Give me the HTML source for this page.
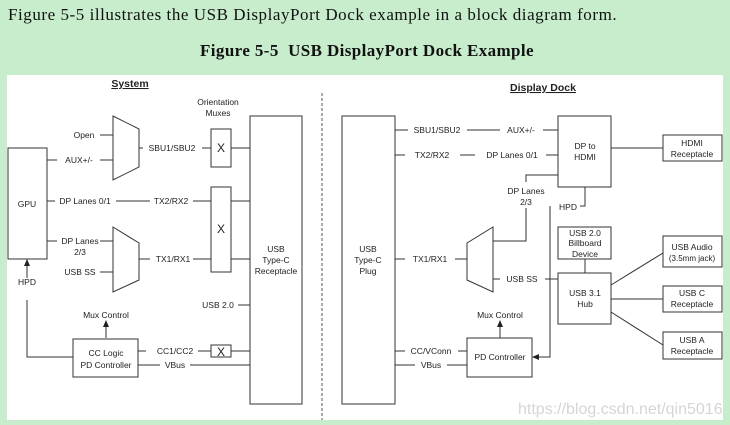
<!DOCTYPE html>
<html><head><meta charset="utf-8"><style>
body{margin:0;width:730px;height:425px;background:#c7edcc;overflow:hidden;position:relative;font-family:"Liberation Serif",serif}
.t1{position:absolute;left:8px;top:5px;font-size:17px;color:#111;letter-spacing:0.55px;white-space:nowrap}
.t2{position:absolute;left:0;width:734px;top:41px;text-align:center;font-size:17px;font-weight:bold;color:#111;letter-spacing:0.4px}
svg{position:absolute;left:0;top:0}
</style></head><body>
<div class="t1">Figure 5-5 illustrates the USB DisplayPort Dock example in a block diagram form.</div>
<div class="t2">Figure 5-5&nbsp; USB DisplayPort Dock Example</div>
<svg width="730" height="425" font-family="Liberation Sans, sans-serif" font-size="8.5" fill="#222">
<rect x="7" y="75" width="716" height="345" fill="#fff"/>
<g stroke="#333" stroke-width="1" fill="none">
<rect x="8" y="148" width="39" height="111"/>
<polygon points="113,116 139,129 139,167 113,180"/>
<polygon points="113,227 139,243 139,280 113,292"/>
<rect x="211" y="129" width="20" height="38"/>
<rect x="211" y="187" width="20" height="85"/>
<rect x="211" y="345" width="20" height="12"/>
<rect x="250" y="116" width="52" height="288"/>
<rect x="73" y="339" width="65" height="38"/>
<path d="M47 160H57M100 160H113M100 135H113M139 148H143M202 148H211M231 148H250"/>
<path d="M47 201H55M116 201H150M193 201H211M231 201H250M231 259H250"/>
<path d="M47 241H57M100 241H113M100 272H113M139 259H150M193 259H211M238 305H250"/>
<path d="M27 300V357H73M27 278V264"/>
<path d="M106 338V326M138 351H146M198 351H211M231 351H250M138 365H160M190 365H250"/>
<rect x="342" y="116" width="53" height="288"/>
<rect x="558" y="116" width="53" height="71"/>
<rect x="663" y="135" width="59" height="26"/>
<polygon points="467,243 493,227 493,292 467,280"/>
<rect x="558" y="227" width="53" height="32"/>
<rect x="558" y="273" width="53" height="51"/>
<rect x="467" y="338" width="65" height="39"/>
<rect x="663" y="236" width="59" height="31"/>
<rect x="663" y="286" width="59" height="26"/>
<rect x="663" y="332" width="59" height="27"/>
<path d="M395 130H408M467 130H500M543 130H558M395 155H405M460 155H475M546 155H558M611 148H663"/>
<path d="M558 175H526V182M526 208V241H493"/>
<path d="M585 187V206H580M550 206V357H538"/>
<path d="M395 259H405M455 259H467M493 279H500M545 279H558M585 259V273"/>
<path d="M611 285L663 253M611 299H663M611 312L663 345"/>
<path d="M500 338V326M395 351H405M458 351H467M395 365H415M447 365H467"/>
</g>
<path d="M322 93V420" stroke="#555" stroke-dasharray="3,2"/>
<g fill="#222">
<polygon points="24,266 30,266 27,259"/>
<polygon points="103,327 109,327 106,320"/>
<polygon points="497,327 503,327 500,320"/>
<polygon points="539,354 539,360 532,357"/>
</g>
<g text-anchor="middle">
<text x="130" y="87" font-weight="bold" font-size="10.5" text-decoration="underline">System</text>
<text x="543" y="91" font-weight="bold" font-size="10.5" text-decoration="underline">Display Dock</text>
<text x="218" y="105">Orientation</text><text x="218" y="116">Muxes</text>
<text x="27" y="207">GPU</text>
<text x="84" y="138">Open</text><text x="79" y="163">AUX+/-</text>
<text x="172" y="151">SBU1/SBU2</text>
<text x="221" y="152" font-size="12">X</text>
<text x="85" y="204">DP Lanes 0/1</text><text x="171" y="204">TX2/RX2</text>
<text x="221" y="233" font-size="12">X</text>
<text x="80" y="244">DP Lanes</text><text x="80" y="255">2/3</text>
<text x="80" y="275">USB SS</text><text x="173" y="262">TX1/RX1</text>
<text x="27" y="285">HPD</text>
<text x="218" y="308">USB 2.0</text>
<text x="276" y="252">USB</text><text x="276" y="263">Type-C</text><text x="276" y="274">Receptacle</text>
<text x="106" y="318">Mux Control</text>
<text x="106" y="356">CC Logic</text><text x="106" y="368">PD Controller</text>
<text x="175" y="354">CC1/CC2</text>
<text x="221" y="356" font-size="12">X</text>
<text x="175" y="368">VBus</text>
<text x="368" y="252">USB</text><text x="368" y="263">Type-C</text><text x="368" y="274">Plug</text>
<text x="437" y="133">SBU1/SBU2</text><text x="521" y="133">AUX+/-</text>
<text x="432" y="158">TX2/RX2</text><text x="512" y="158">DP Lanes 0/1</text>
<text x="585" y="149">DP to</text><text x="585" y="160">HDMI</text>
<text x="692" y="146">HDMI</text><text x="692" y="157">Receptacle</text>
<text x="526" y="194">DP Lanes</text><text x="526" y="205">2/3</text>
<text x="568" y="210">HPD</text>
<text x="430" y="262">TX1/RX1</text>
<text x="522" y="282">USB SS</text>
<text x="585" y="236">USB 2.0</text><text x="585" y="246">Billboard</text><text x="585" y="257">Device</text>
<text x="585" y="296">USB 3.1</text><text x="585" y="307">Hub</text>
<text x="692" y="250">USB Audio</text><text x="692" y="261" font-size="8">(3.5mm jack)</text>
<text x="692" y="296">USB C</text><text x="692" y="307">Receptacle</text>
<text x="692" y="343">USB A</text><text x="692" y="354">Receptacle</text>
<text x="500" y="318">Mux Control</text>
<text x="500" y="360">PD Controller</text>
<text x="431" y="354">CC/VConn</text><text x="431" y="368">VBus</text>
</g>
<text x="518" y="414" font-size="16" fill="#d5d5d5">https://blog.csdn.net/qin5016</text>
</svg>
</body></html>
